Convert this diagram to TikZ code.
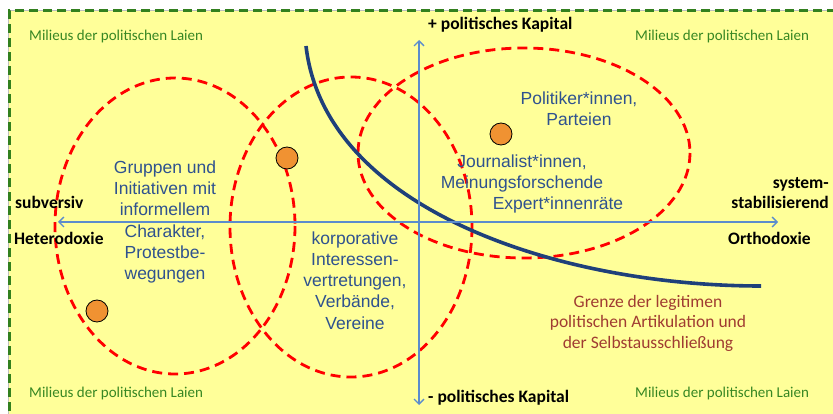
\documentclass[tikz,border=0pt]{standalone}
\usepackage{fontspec}
\setmainfont{Carlito}
\newfontfamily\arialf{Liberation Sans}
\usetikzlibrary{arrows.meta}
\definecolor{bgyellow}{RGB}{255,255,153}
\definecolor{bordergreen}{RGB}{50,128,30}
\definecolor{laiengreen}{RGB}{55,135,35}
\definecolor{axisblue}{RGB}{91,140,205}
\definecolor{curveblue}{RGB}{31,64,122}
\definecolor{textblue}{RGB}{47,82,143}
\definecolor{grenzered}{RGB}{160,60,50}
\definecolor{dotorange}{RGB}{240,146,50}
\begin{document}
\begin{tikzpicture}[x=1pt,y=-1pt,
  milieu/.style={text=laiengreen, font=\fontsize{15}{18}\selectfont, inner sep=0pt, anchor=west},
  axislabel/.style={font=\fontsize{17.5}{20}\selectfont\bfseries, inner sep=0pt},
  actor/.style={text=textblue, font=\arialf\fontsize{17.5}{21.2}\selectfont, align=center, inner sep=0pt},
  grenze/.style={text=grenzered, font=\fontsize{17.5}{20.5}\selectfont, align=center, inner sep=0pt},
  field/.style={draw=red, line width=2.8pt, dash pattern=on 10pt off 6pt},
  dot/.style={circle, fill=dotorange, draw=black, line width=0.8pt, minimum size=22pt, inner sep=0pt},
  axisline/.style={draw=axisblue, line width=1.3pt, <->, >={Straight Barb[length=5pt,width=10pt]}}
]
\useasboundingbox (0,0) rectangle (833,414);
\clip (0,0) rectangle (833,414);
% background field
\fill[bgyellow] (8,10) rectangle (845,425);
\draw[gray!50, line width=0.6pt] (8,10) rectangle (845,425);
\draw[bordergreen, line width=3pt, dash pattern=on 9pt off 5pt] (9,425) -- (9,11) -- (845,11);
% fields
\draw[field] (175,226) ellipse [x radius=120, y radius=148];
\draw[field] (351,227) ellipse [x radius=121, y radius=150];
\draw[field] (524,153) ellipse [x radius=166, y radius=105];
% boundary curve
\draw[curveblue, line width=3.6pt] (306,46) .. controls (325,210) and (560,286) .. (761,286);
% axes
\coordinate (ytop) at (419,40);
\coordinate (ybot) at (419,405);
\coordinate (xleft) at (58,222);
\coordinate (xright) at (778,222);
\draw[axisline] (ybot) -- (ytop);
\draw[axisline] (xleft) -- (xright);
% dots
\node[dot] (d1) at (287,158) {};
\node[dot] (d2) at (501,134) {};
\node[dot] (d3) at (97,311) {};
% milieu labels
\node[milieu] (m1) at (29,37) {Milieus der politischen Laien};
\node[milieu] (m2) at (635,37) {Milieus der politischen Laien};
\node[milieu] (m3) at (29,393) {Milieus der politischen Laien};
\node[milieu] (m4) at (635,393) {Milieus der politischen Laien};
% axis labels
\node[axislabel, anchor=west] (kplus) at (428,25) {+ politisches Kapital};
\node[axislabel, anchor=west] (kminus) at (428,398) {- politisches Kapital};
\node[axislabel, anchor=west] (subv) at (15,202) {subversiv};
\node[axislabel, anchor=west] (hetero) at (14,238) {Heterodoxie};
\node[axislabel, anchor=east, align=right] (sysstab) at (829,193) {system-\\stabilisierend};
\node[axislabel, anchor=west] (ortho) at (728,238) {Orthodoxie};
% actors
\node[actor] (gruppen) at (165,222) {Gruppen und\\Initiativen mit\\informellem\\Charakter,\\Protestbe-\\wegungen};
\node[actor] (korp) at (355,280.5) {korporative\\Interessen-\\vertretungen,\\Verbände,\\Vereine};
\node[actor] (polit) at (579,108.5) {Politiker*innen,\\Parteien};
\node[actor] (journ) at (522,173.5) {Journalist*innen,\\Meinungsforschende};
\node[actor] (expert) at (558,205) {Expert*innenräte};
% boundary label
\node[grenze] (grenzlabel) at (648,323) {Grenze der legitimen\\politischen Artikulation und\\der Selbstausschließung};
\end{tikzpicture}
\end{document}
